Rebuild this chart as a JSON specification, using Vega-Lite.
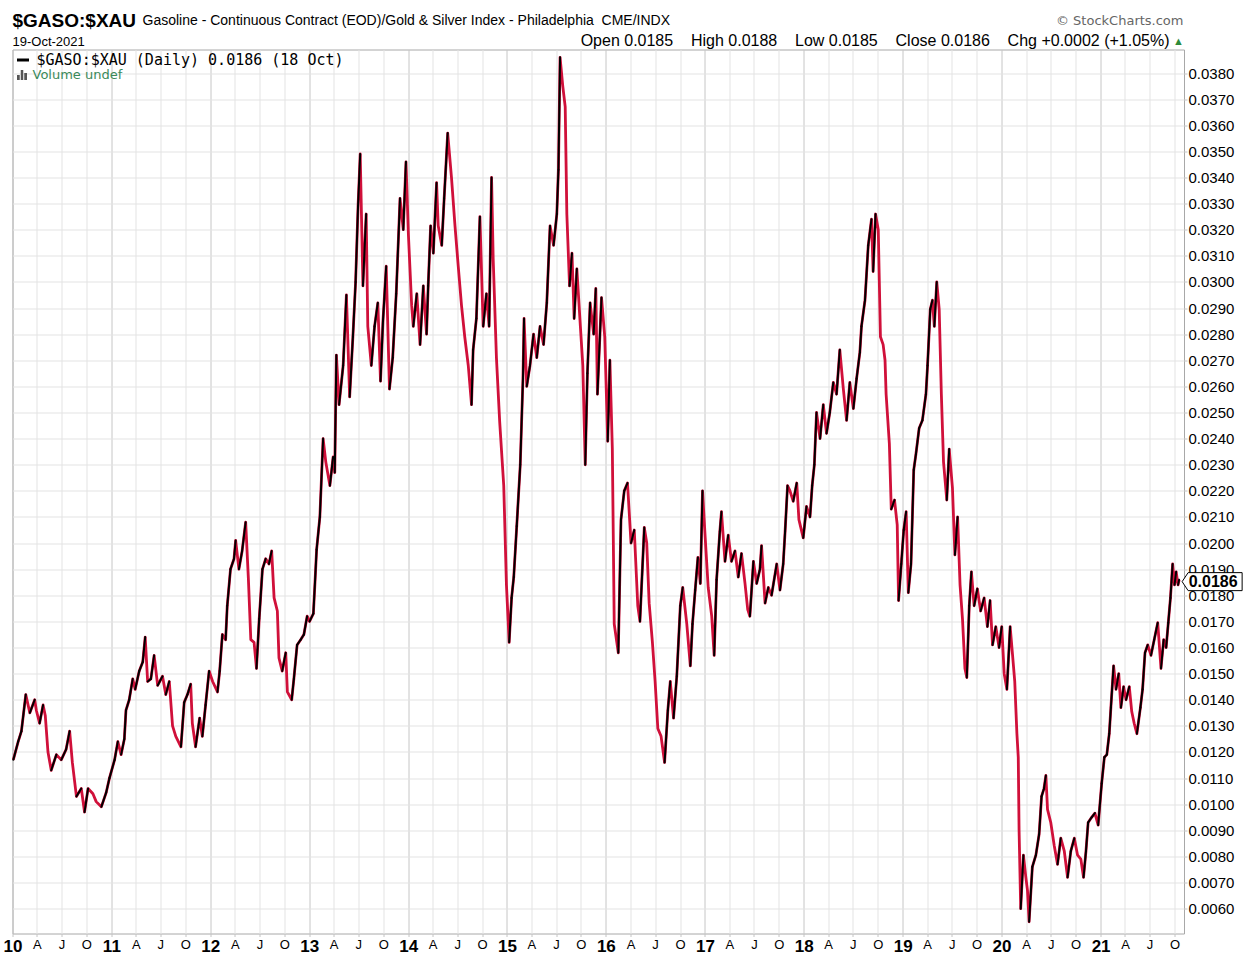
{
  "$schema": "https://vega.github.io/schema/vega-lite/v6.json",
  "width": 1171.5,
  "height": 884,
  "autosize": {"type": "none"},
  "padding": {"left": 12.5, "top": 49.5, "right": 65, "bottom": 25.5},
  "background": "#ffffff",
  "config": {
    "view": {"stroke": "#a8a8a8", "strokeWidth": 1},
    "font": "Liberation Sans"
  },
  "title": {
    "text": "$GASO:$XAU",
    "subtitle": "19-Oct-2021",
    "anchor": "start",
    "frame": "group",
    "font": "Liberation Sans",
    "fontSize": 19,
    "fontWeight": "bold",
    "color": "#000000",
    "subtitleFont": "Liberation Sans",
    "subtitleFontSize": 13,
    "subtitleColor": "#000000",
    "subtitlePadding": 5,
    "offset": -35.5
  },
  "data": {
    "values": [
      {"d": "2010-01-04", "v": 0.0117}, {"d": "2010-01-22", "v": 0.0124}, {"d": "2010-02-03", "v": 0.0128},
      {"d": "2010-02-19", "v": 0.0142}, {"d": "2010-03-06", "v": 0.0135}, {"d": "2010-03-24", "v": 0.014},
      {"d": "2010-03-30", "v": 0.0136}, {"d": "2010-04-11", "v": 0.0131}, {"d": "2010-04-24", "v": 0.0138},
      {"d": "2010-05-02", "v": 0.0134}, {"d": "2010-05-12", "v": 0.012}, {"d": "2010-05-24", "v": 0.0113},
      {"d": "2010-06-12", "v": 0.0119}, {"d": "2010-06-30", "v": 0.0117}, {"d": "2010-07-18", "v": 0.0121},
      {"d": "2010-07-31", "v": 0.0128}, {"d": "2010-08-10", "v": 0.0116}, {"d": "2010-08-25", "v": 0.0103},
      {"d": "2010-09-12", "v": 0.0106}, {"d": "2010-09-24", "v": 0.0097}, {"d": "2010-10-07", "v": 0.0106},
      {"d": "2010-10-25", "v": 0.0104}, {"d": "2010-11-06", "v": 0.0101}, {"d": "2010-11-25", "v": 0.0099},
      {"d": "2010-12-13", "v": 0.01045}, {"d": "2010-12-25", "v": 0.011}, {"d": "2011-01-13", "v": 0.0117},
      {"d": "2011-01-25", "v": 0.0124}, {"d": "2011-02-06", "v": 0.0119}, {"d": "2011-02-18", "v": 0.0125},
      {"d": "2011-02-24", "v": 0.0136}, {"d": "2011-03-08", "v": 0.014}, {"d": "2011-03-21", "v": 0.0148},
      {"d": "2011-03-30", "v": 0.0144}, {"d": "2011-04-14", "v": 0.0151}, {"d": "2011-04-27", "v": 0.01545},
      {"d": "2011-05-06", "v": 0.0164}, {"d": "2011-05-15", "v": 0.0147}, {"d": "2011-05-27", "v": 0.0148},
      {"d": "2011-06-08", "v": 0.0157}, {"d": "2011-06-21", "v": 0.01455}, {"d": "2011-07-09", "v": 0.0149},
      {"d": "2011-07-21", "v": 0.0142}, {"d": "2011-08-03", "v": 0.0147}, {"d": "2011-08-15", "v": 0.013},
      {"d": "2011-08-27", "v": 0.0126}, {"d": "2011-09-15", "v": 0.0122}, {"d": "2011-09-27", "v": 0.0139},
      {"d": "2011-10-09", "v": 0.0142}, {"d": "2011-10-21", "v": 0.0146}, {"d": "2011-10-27", "v": 0.0131},
      {"d": "2011-11-08", "v": 0.0122}, {"d": "2011-11-23", "v": 0.0133}, {"d": "2011-12-03", "v": 0.0126},
      {"d": "2011-12-15", "v": 0.0138}, {"d": "2011-12-28", "v": 0.0151}, {"d": "2012-01-10", "v": 0.0147},
      {"d": "2012-01-28", "v": 0.0143}, {"d": "2012-02-05", "v": 0.0151}, {"d": "2012-02-15", "v": 0.0165},
      {"d": "2012-02-27", "v": 0.0163}, {"d": "2012-03-04", "v": 0.0176}, {"d": "2012-03-16", "v": 0.019},
      {"d": "2012-03-29", "v": 0.0194}, {"d": "2012-04-04", "v": 0.0201}, {"d": "2012-04-16", "v": 0.019},
      {"d": "2012-04-28", "v": 0.0197}, {"d": "2012-05-11", "v": 0.0208}, {"d": "2012-05-21", "v": 0.01865},
      {"d": "2012-05-30", "v": 0.0163}, {"d": "2012-06-11", "v": 0.0162}, {"d": "2012-06-20", "v": 0.0152},
      {"d": "2012-06-30", "v": 0.0171}, {"d": "2012-07-12", "v": 0.019}, {"d": "2012-07-24", "v": 0.0194},
      {"d": "2012-08-05", "v": 0.0192}, {"d": "2012-08-15", "v": 0.0197}, {"d": "2012-08-24", "v": 0.0179},
      {"d": "2012-09-05", "v": 0.0174}, {"d": "2012-09-11", "v": 0.0156}, {"d": "2012-09-23", "v": 0.0151},
      {"d": "2012-10-06", "v": 0.0158}, {"d": "2012-10-12", "v": 0.0143}, {"d": "2012-10-28", "v": 0.014},
      {"d": "2012-11-05", "v": 0.0148}, {"d": "2012-11-17", "v": 0.0161}, {"d": "2012-11-30", "v": 0.0163},
      {"d": "2012-12-12", "v": 0.0165}, {"d": "2012-12-24", "v": 0.0172}, {"d": "2013-01-02", "v": 0.017},
      {"d": "2013-01-16", "v": 0.0173}, {"d": "2013-01-22", "v": 0.0185}, {"d": "2013-01-28", "v": 0.01975},
      {"d": "2013-02-09", "v": 0.021}, {"d": "2013-02-21", "v": 0.024}, {"d": "2013-03-03", "v": 0.0231},
      {"d": "2013-03-18", "v": 0.0222}, {"d": "2013-03-30", "v": 0.0233}, {"d": "2013-04-05", "v": 0.0227},
      {"d": "2013-04-11", "v": 0.0272}, {"d": "2013-04-21", "v": 0.0253}, {"d": "2013-05-06", "v": 0.0268},
      {"d": "2013-05-18", "v": 0.0295}, {"d": "2013-05-30", "v": 0.0256}, {"d": "2013-06-11", "v": 0.0279},
      {"d": "2013-06-21", "v": 0.03}, {"d": "2013-06-30", "v": 0.0329}, {"d": "2013-07-08", "v": 0.0349},
      {"d": "2013-07-18", "v": 0.02985}, {"d": "2013-07-30", "v": 0.0326}, {"d": "2013-08-05", "v": 0.0283},
      {"d": "2013-08-18", "v": 0.0268}, {"d": "2013-08-30", "v": 0.0283}, {"d": "2013-09-11", "v": 0.0292},
      {"d": "2013-09-21", "v": 0.0262}, {"d": "2013-09-30", "v": 0.0285}, {"d": "2013-10-12", "v": 0.0306},
      {"d": "2013-10-24", "v": 0.0259}, {"d": "2013-11-05", "v": 0.0271}, {"d": "2013-11-18", "v": 0.02955},
      {"d": "2013-12-02", "v": 0.0332}, {"d": "2013-12-14", "v": 0.032}, {"d": "2013-12-24", "v": 0.0346},
      {"d": "2014-01-02", "v": 0.0318}, {"d": "2014-01-14", "v": 0.0291}, {"d": "2014-01-20", "v": 0.0283},
      {"d": "2014-02-02", "v": 0.02955}, {"d": "2014-02-14", "v": 0.0276}, {"d": "2014-02-26", "v": 0.02985},
      {"d": "2014-03-10", "v": 0.028}, {"d": "2014-03-16", "v": 0.02985}, {"d": "2014-03-25", "v": 0.03215},
      {"d": "2014-04-04", "v": 0.0311}, {"d": "2014-04-16", "v": 0.0338}, {"d": "2014-04-22", "v": 0.03215},
      {"d": "2014-05-05", "v": 0.0314}, {"d": "2014-05-14", "v": 0.0332}, {"d": "2014-05-27", "v": 0.0357},
      {"d": "2014-06-10", "v": 0.034}, {"d": "2014-06-23", "v": 0.03215}, {"d": "2014-07-05", "v": 0.0306},
      {"d": "2014-07-17", "v": 0.0291}, {"d": "2014-07-29", "v": 0.0279}, {"d": "2014-08-11", "v": 0.0268},
      {"d": "2014-08-23", "v": 0.0253}, {"d": "2014-08-29", "v": 0.0274}, {"d": "2014-09-10", "v": 0.0286},
      {"d": "2014-09-23", "v": 0.0325}, {"d": "2014-10-05", "v": 0.0283}, {"d": "2014-10-17", "v": 0.02955},
      {"d": "2014-10-27", "v": 0.0283}, {"d": "2014-11-05", "v": 0.034}, {"d": "2014-11-11", "v": 0.0309},
      {"d": "2014-11-23", "v": 0.0271}, {"d": "2014-12-05", "v": 0.02465}, {"d": "2014-12-20", "v": 0.0222},
      {"d": "2014-12-30", "v": 0.0184}, {"d": "2015-01-09", "v": 0.0162}, {"d": "2015-01-18", "v": 0.0179},
      {"d": "2015-01-26", "v": 0.0187}, {"d": "2015-02-06", "v": 0.02065}, {"d": "2015-02-19", "v": 0.023},
      {"d": "2015-03-01", "v": 0.0263}, {"d": "2015-03-05", "v": 0.0286}, {"d": "2015-03-15", "v": 0.026},
      {"d": "2015-03-27", "v": 0.0268}, {"d": "2015-04-09", "v": 0.028}, {"d": "2015-04-21", "v": 0.0271},
      {"d": "2015-05-03", "v": 0.0283}, {"d": "2015-05-16", "v": 0.0276}, {"d": "2015-05-28", "v": 0.0292},
      {"d": "2015-06-09", "v": 0.03215}, {"d": "2015-06-22", "v": 0.0314}, {"d": "2015-07-04", "v": 0.0326},
      {"d": "2015-07-10", "v": 0.0343}, {"d": "2015-07-16", "v": 0.0386}, {"d": "2015-07-26", "v": 0.0375},
      {"d": "2015-08-04", "v": 0.0367}, {"d": "2015-08-10", "v": 0.0326}, {"d": "2015-08-20", "v": 0.02985},
      {"d": "2015-08-29", "v": 0.0311}, {"d": "2015-09-06", "v": 0.0286}, {"d": "2015-09-16", "v": 0.0305},
      {"d": "2015-09-29", "v": 0.0283}, {"d": "2015-10-08", "v": 0.0268}, {"d": "2015-10-17", "v": 0.023},
      {"d": "2015-10-25", "v": 0.0265}, {"d": "2015-11-04", "v": 0.0292}, {"d": "2015-11-17", "v": 0.028},
      {"d": "2015-11-25", "v": 0.02975}, {"d": "2015-12-01", "v": 0.0257}, {"d": "2015-12-16", "v": 0.0294},
      {"d": "2015-12-28", "v": 0.0279}, {"d": "2016-01-08", "v": 0.0239}, {"d": "2016-01-16", "v": 0.027},
      {"d": "2016-01-25", "v": 0.0236}, {"d": "2016-02-01", "v": 0.0169}, {"d": "2016-02-16", "v": 0.0158},
      {"d": "2016-02-26", "v": 0.0209}, {"d": "2016-03-09", "v": 0.022}, {"d": "2016-03-21", "v": 0.0223},
      {"d": "2016-04-03", "v": 0.02}, {"d": "2016-04-15", "v": 0.0205}, {"d": "2016-04-28", "v": 0.0176},
      {"d": "2016-05-06", "v": 0.017}, {"d": "2016-05-22", "v": 0.0206}, {"d": "2016-05-31", "v": 0.02},
      {"d": "2016-06-09", "v": 0.0177}, {"d": "2016-06-21", "v": 0.0162}, {"d": "2016-07-01", "v": 0.0147},
      {"d": "2016-07-11", "v": 0.0129}, {"d": "2016-07-23", "v": 0.0126}, {"d": "2016-08-05", "v": 0.0116},
      {"d": "2016-08-17", "v": 0.0136}, {"d": "2016-08-26", "v": 0.0147}, {"d": "2016-09-07", "v": 0.0133},
      {"d": "2016-09-19", "v": 0.0149}, {"d": "2016-10-02", "v": 0.0176}, {"d": "2016-10-11", "v": 0.0183},
      {"d": "2016-10-26", "v": 0.0169}, {"d": "2016-11-08", "v": 0.0153}, {"d": "2016-11-16", "v": 0.0169},
      {"d": "2016-11-26", "v": 0.0182}, {"d": "2016-12-06", "v": 0.01945}, {"d": "2016-12-15", "v": 0.01845},
      {"d": "2016-12-23", "v": 0.022}, {"d": "2017-01-02", "v": 0.0202}, {"d": "2017-01-13", "v": 0.0183},
      {"d": "2017-01-26", "v": 0.0172}, {"d": "2017-02-04", "v": 0.0157}, {"d": "2017-02-13", "v": 0.0186},
      {"d": "2017-02-25", "v": 0.02045}, {"d": "2017-03-03", "v": 0.0212}, {"d": "2017-03-16", "v": 0.0193},
      {"d": "2017-03-28", "v": 0.0203}, {"d": "2017-04-09", "v": 0.0193}, {"d": "2017-04-22", "v": 0.0197},
      {"d": "2017-05-04", "v": 0.0187}, {"d": "2017-05-16", "v": 0.0196}, {"d": "2017-05-29", "v": 0.01845},
      {"d": "2017-06-08", "v": 0.01745}, {"d": "2017-06-16", "v": 0.0172}, {"d": "2017-06-29", "v": 0.0193},
      {"d": "2017-07-11", "v": 0.01845}, {"d": "2017-07-23", "v": 0.019}, {"d": "2017-07-29", "v": 0.0199},
      {"d": "2017-08-11", "v": 0.0177}, {"d": "2017-08-23", "v": 0.0183}, {"d": "2017-09-04", "v": 0.018},
      {"d": "2017-09-23", "v": 0.0192}, {"d": "2017-10-05", "v": 0.0182}, {"d": "2017-10-17", "v": 0.0192},
      {"d": "2017-10-24", "v": 0.02045}, {"d": "2017-11-02", "v": 0.0222}, {"d": "2017-11-11", "v": 0.022},
      {"d": "2017-11-23", "v": 0.0216}, {"d": "2017-12-06", "v": 0.0223}, {"d": "2017-12-14", "v": 0.0209},
      {"d": "2017-12-30", "v": 0.0202}, {"d": "2018-01-11", "v": 0.0214}, {"d": "2018-01-24", "v": 0.021},
      {"d": "2018-02-01", "v": 0.0222}, {"d": "2018-02-09", "v": 0.023}, {"d": "2018-02-17", "v": 0.025},
      {"d": "2018-03-02", "v": 0.024}, {"d": "2018-03-14", "v": 0.0253}, {"d": "2018-03-26", "v": 0.0242},
      {"d": "2018-04-07", "v": 0.025}, {"d": "2018-04-20", "v": 0.02615}, {"d": "2018-05-02", "v": 0.0257},
      {"d": "2018-05-14", "v": 0.0274}, {"d": "2018-05-27", "v": 0.0259}, {"d": "2018-06-08", "v": 0.0247},
      {"d": "2018-06-20", "v": 0.02615}, {"d": "2018-07-03", "v": 0.02515}, {"d": "2018-07-15", "v": 0.0263},
      {"d": "2018-07-27", "v": 0.0273}, {"d": "2018-08-02", "v": 0.0283}, {"d": "2018-08-15", "v": 0.0293},
      {"d": "2018-08-27", "v": 0.0314}, {"d": "2018-09-08", "v": 0.0324}, {"d": "2018-09-14", "v": 0.0304},
      {"d": "2018-09-23", "v": 0.0326}, {"d": "2018-10-03", "v": 0.032}, {"d": "2018-10-11", "v": 0.0279},
      {"d": "2018-10-21", "v": 0.0276}, {"d": "2018-10-28", "v": 0.027}, {"d": "2018-11-01", "v": 0.0257},
      {"d": "2018-11-13", "v": 0.0238}, {"d": "2018-11-20", "v": 0.0213}, {"d": "2018-12-02", "v": 0.02165},
      {"d": "2018-12-12", "v": 0.0207}, {"d": "2018-12-17", "v": 0.0178}, {"d": "2018-12-27", "v": 0.0192},
      {"d": "2019-01-05", "v": 0.0205}, {"d": "2019-01-14", "v": 0.0212}, {"d": "2019-01-22", "v": 0.0181},
      {"d": "2019-02-01", "v": 0.0192}, {"d": "2019-02-11", "v": 0.0228}, {"d": "2019-02-19", "v": 0.0234},
      {"d": "2019-03-03", "v": 0.0244}, {"d": "2019-03-15", "v": 0.0247}, {"d": "2019-03-28", "v": 0.0257},
      {"d": "2019-04-03", "v": 0.0268}, {"d": "2019-04-13", "v": 0.02895}, {"d": "2019-04-21", "v": 0.0293},
      {"d": "2019-04-28", "v": 0.0283}, {"d": "2019-05-07", "v": 0.03}, {"d": "2019-05-16", "v": 0.02895},
      {"d": "2019-05-24", "v": 0.0257}, {"d": "2019-06-01", "v": 0.0231}, {"d": "2019-06-13", "v": 0.02165},
      {"d": "2019-06-22", "v": 0.0236}, {"d": "2019-07-04", "v": 0.0221}, {"d": "2019-07-13", "v": 0.01955},
      {"d": "2019-07-23", "v": 0.021}, {"d": "2019-08-01", "v": 0.0184}, {"d": "2019-08-10", "v": 0.0171},
      {"d": "2019-08-19", "v": 0.0152}, {"d": "2019-08-26", "v": 0.01485}, {"d": "2019-09-04", "v": 0.0176},
      {"d": "2019-09-12", "v": 0.0189}, {"d": "2019-09-22", "v": 0.0176}, {"d": "2019-10-04", "v": 0.01825},
      {"d": "2019-10-16", "v": 0.0174}, {"d": "2019-10-29", "v": 0.0179}, {"d": "2019-11-10", "v": 0.0168},
      {"d": "2019-11-20", "v": 0.0178}, {"d": "2019-11-29", "v": 0.0161}, {"d": "2019-12-11", "v": 0.0168},
      {"d": "2019-12-23", "v": 0.016}, {"d": "2020-01-02", "v": 0.0168}, {"d": "2020-01-11", "v": 0.015},
      {"d": "2020-01-21", "v": 0.0144}, {"d": "2020-02-02", "v": 0.0168}, {"d": "2020-02-11", "v": 0.0157},
      {"d": "2020-02-19", "v": 0.0147}, {"d": "2020-02-27", "v": 0.0127}, {"d": "2020-03-03", "v": 0.0118},
      {"d": "2020-03-06", "v": 0.009}, {"d": "2020-03-12", "v": 0.006}, {"d": "2020-03-22", "v": 0.00805},
      {"d": "2020-03-31", "v": 0.0072}, {"d": "2020-04-06", "v": 0.0067}, {"d": "2020-04-12", "v": 0.0055},
      {"d": "2020-04-24", "v": 0.0076}, {"d": "2020-05-07", "v": 0.00805}, {"d": "2020-05-19", "v": 0.00885},
      {"d": "2020-05-28", "v": 0.0103}, {"d": "2020-06-06", "v": 0.0106}, {"d": "2020-06-13", "v": 0.0111},
      {"d": "2020-06-19", "v": 0.0098}, {"d": "2020-07-01", "v": 0.0093}, {"d": "2020-07-14", "v": 0.0084},
      {"d": "2020-07-26", "v": 0.0077}, {"d": "2020-08-07", "v": 0.0087}, {"d": "2020-08-20", "v": 0.0082},
      {"d": "2020-09-01", "v": 0.0072}, {"d": "2020-09-13", "v": 0.0082}, {"d": "2020-09-26", "v": 0.0087},
      {"d": "2020-10-08", "v": 0.00805}, {"d": "2020-10-20", "v": 0.0079}, {"d": "2020-10-30", "v": 0.0072},
      {"d": "2020-11-08", "v": 0.0082}, {"d": "2020-11-16", "v": 0.0093}, {"d": "2020-11-29", "v": 0.0095},
      {"d": "2020-12-11", "v": 0.00966}, {"d": "2020-12-23", "v": 0.0092}, {"d": "2021-01-05", "v": 0.0108},
      {"d": "2021-01-15", "v": 0.0118}, {"d": "2021-01-24", "v": 0.0119}, {"d": "2021-02-02", "v": 0.0127},
      {"d": "2021-02-08", "v": 0.0137}, {"d": "2021-02-18", "v": 0.0153}, {"d": "2021-02-27", "v": 0.0144},
      {"d": "2021-03-09", "v": 0.015}, {"d": "2021-03-17", "v": 0.0137}, {"d": "2021-03-27", "v": 0.0145},
      {"d": "2021-04-05", "v": 0.014}, {"d": "2021-04-17", "v": 0.0145}, {"d": "2021-04-26", "v": 0.01355},
      {"d": "2021-05-05", "v": 0.0131}, {"d": "2021-05-15", "v": 0.0127}, {"d": "2021-05-28", "v": 0.0137},
      {"d": "2021-06-05", "v": 0.0144}, {"d": "2021-06-14", "v": 0.0158}, {"d": "2021-06-24", "v": 0.0161},
      {"d": "2021-07-06", "v": 0.0157}, {"d": "2021-07-18", "v": 0.0163}, {"d": "2021-07-31", "v": 0.01695},
      {"d": "2021-08-12", "v": 0.0152}, {"d": "2021-08-22", "v": 0.0163}, {"d": "2021-08-31", "v": 0.016},
      {"d": "2021-09-08", "v": 0.01695}, {"d": "2021-09-16", "v": 0.0179}, {"d": "2021-09-24", "v": 0.0192},
      {"d": "2021-10-01", "v": 0.0184}, {"d": "2021-10-07", "v": 0.0189}, {"d": "2021-10-14", "v": 0.0184},
      {"d": "2021-10-18", "v": 0.0186}
    ]
  },
  "layer": [
    {
      "mark": {"type": "line", "color": "#d0103a", "strokeWidth": 2.8, "strokeJoin": "round"},
      "encoding": {
        "x": {
          "field": "d",
          "type": "temporal",
          "scale": {
            "type": "utc",
            "domain": [{"year": 2010, "month": 1, "date": 1, "utc": true}, {"year": 2021, "month": 11, "date": 5, "utc": true}],
            "nice": false
          },
          "axis": {
            "orient": "bottom",
            "tickCount": {"interval": "month", "step": 3},
            "labelExpr": "utcmonth(datum.value) == 0 ? utcFormat(datum.value, '%y') : slice(utcFormat(datum.value, '%b'), 0, 1)",
            "labelFont": "Liberation Sans",
            "labelFontWeight": {"condition": {"test": "utcmonth(datum.value) == 0", "value": "bold"}, "value": "normal"},
            "labelFontSize": {"condition": {"test": "utcmonth(datum.value) == 0", "value": 17}, "value": 13},
            "labelColor": "#000000",
            "labelPadding": 2,
            "labelOverlap": false,
            "labelBound": false,
            "labelFlush": false,
            "ticks": true,
            "tickSize": 3,
            "tickColor": "#c4c4c4",
            "domain": false,
            "grid": true,
            "gridColor": {"condition": {"test": "utcmonth(datum.value) == 0", "value": "#c6c6c6"}, "value": "#e3e3e3"},
            "gridWidth": 1,
            "title": "▲",
            "titleColor": "#2e8b3a",
            "titleFontSize": 11,
            "titleFontWeight": "normal",
            "titleX": 1165.5,
            "titleY": -892.5,
            "titleAlign": "center",
            "titleBaseline": "middle"
          }
        },
        "y": {
          "field": "v",
          "type": "quantitative",
          "scale": {"domain": [0.00505, 0.0389], "nice": false, "zero": false},
          "axis": {
            "orient": "right",
            "values": [0.006, 0.007, 0.008, 0.009, 0.01, 0.011, 0.012, 0.013, 0.014, 0.015, 0.016, 0.017, 0.018, 0.019, 0.02, 0.021, 0.022, 0.023, 0.024, 0.025, 0.026, 0.027, 0.028, 0.029, 0.03, 0.031, 0.032, 0.033, 0.034, 0.035, 0.036, 0.037, 0.038],
            "format": ".4f",
            "labelFont": "Liberation Sans",
            "labelFontSize": 15,
            "labelColor": "#000000",
            "labelPadding": 1,
            "ticks": true,
            "tickSize": 3,
            "tickColor": "#c4c4c4",
            "domain": false,
            "grid": true,
            "gridColor": "#e3e3e3",
            "title": "Open 0.0185\u00a0\u00a0\u00a0 High 0.0188\u00a0\u00a0\u00a0 Low 0.0185\u00a0\u00a0\u00a0 Close 0.0186\u00a0\u00a0\u00a0 Chg +0.0002 (+1.05%)",
            "titleAngle": 0,
            "titleX": -15,
            "titleY": -4.5,
            "titleAlign": "right",
            "titleBaseline": "alphabetic",
            "titleFont": "Liberation Sans",
            "titleFontSize": 16,
            "titleFontWeight": "normal",
            "titleColor": "#000000",
            "titleLimit": 700
          }
        }
      }
    },
    {
      "transform": [
        {"window": [{"op": "lag", "field": "d", "as": "pd"}, {"op": "lag", "field": "v", "as": "pv"}], "sort": [{"field": "d"}]},
        {"filter": "datum.pv != null && datum.v > datum.pv"}
      ],
      "mark": {"type": "rule", "strokeWidth": 2, "strokeCap": "round"},
      "encoding": {
        "x": {
          "field": "pd",
          "type": "temporal",
          "scale": {
            "type": "utc",
            "domain": [{"year": 2010, "month": 1, "date": 1, "utc": true}, {"year": 2021, "month": 11, "date": 5, "utc": true}],
            "nice": false
          },
          "axis": {
            "orient": "top",
            "labels": false,
            "ticks": false,
            "domain": false,
            "grid": false,
            "title": "Gasoline - Continuous Contract (EOD)/Gold & Silver Index - Philadelphia\u00a0\u00a0CME/INDX",
            "titleX": 129.5,
            "titleY": -25.5,
            "titleAlign": "left",
            "titleAnchor": "start",
            "titleBaseline": "alphabetic",
            "titleFont": "Liberation Sans",
            "titleFontSize": 14,
            "titleFontWeight": "normal",
            "titleColor": "#000000",
            "titleLimit": 800
          }
        },
        "x2": {"field": "d"},
        "y": {
          "field": "pv",
          "type": "quantitative",
          "scale": {"domain": [0.00505, 0.0389], "nice": false, "zero": false},
          "axis": {
            "orient": "left",
            "labels": false,
            "ticks": false,
            "domain": false,
            "grid": false,
            "title": "© StockCharts.com",
            "titleAngle": 0,
            "titleX": 1170.5,
            "titleY": -25.5,
            "titleAlign": "right",
            "titleBaseline": "alphabetic",
            "titleFont": "DejaVu Sans",
            "titleFontSize": 13,
            "titleFontWeight": "normal",
            "titleColor": "#666666"
          }
        },
        "y2": {"field": "v"},
        "stroke": {
          "datum": "$GASO:$XAU (Daily) 0.0186 (18 Oct)",
          "type": "nominal",
          "scale": {"range": ["#000000"]},
          "legend": {
            "orient": "none",
            "legendX": 3,
            "legendY": 3,
            "title": null,
            "padding": 0,
            "symbolType": "stroke",
            "symbolSize": 144,
            "symbolStrokeWidth": 3,
            "labelFont": "DejaVu Sans Mono",
            "labelFontSize": 15,
            "labelColor": "#000000",
            "labelOffset": 6,
            "labelLimit": 600
          }
        }
      }
    },
    {
      "transform": [
        {"filter": "false"}
      ],
      "mark": {"type": "point", "filled": true, "color": "#555555"},
      "encoding": {
        "x": {"field": "d", "type": "temporal", "axis": null},
        "y": {"field": "v", "type": "quantitative", "axis": null},
        "shape": {
          "datum": "Volume undef",
          "type": "nominal",
          "scale": {"range": ["M-1,1V0H-0.45V1ZM-0.25,1V-1H0.25V1ZM0.45,1V-0.4H1V1Z"]},
          "legend": {
            "orient": "none",
            "legendX": 3,
            "legendY": 19,
            "title": null,
            "padding": 0,
            "symbolSize": 100,
            "symbolFillColor": "#555555",
            "symbolStrokeWidth": 0,
            "symbolOpacity": 1,
            "labelFont": "DejaVu Sans",
            "labelFontSize": 13,
            "labelColor": "#3b8a5a",
            "labelOffset": 4
          }
        }
      }
    },
    {
      "transform": [
        {"joinaggregate": [{"op": "max", "field": "d", "as": "md"}]},
        {"filter": "time(datum.d) == time(datum.md)"}
      ],
      "encoding": {
        "x": {"field": "d", "type": "temporal", "axis": null},
        "y": {"field": "v", "type": "quantitative", "axis": null}
      },
      "layer": [
        {
          "mark": {
            "type": "point",
            "shape": "M-1,0L-0.8,-0.3L1,-0.3L1,0.3L-0.8,0.3Z",
            "size": 3600,
            "filled": true,
            "fill": "#ffffff",
            "stroke": "#000000",
            "strokeWidth": 1,
            "opacity": 1,
            "xOffset": 33,
            "yOffset": 2
          }
        },
        {
          "mark": {
            "type": "text",
            "font": "Liberation Sans",
            "fontSize": 16,
            "fontWeight": "bold",
            "color": "#000000",
            "align": "center",
            "baseline": "middle",
            "dx": 34,
            "dy": 2
          },
          "encoding": {
            "text": {"field": "v", "type": "quantitative", "format": ".4f"}
          }
        }
      ]
    }
  ],
  "resolve": {"axis": {"x": "independent", "y": "independent"}}
}
